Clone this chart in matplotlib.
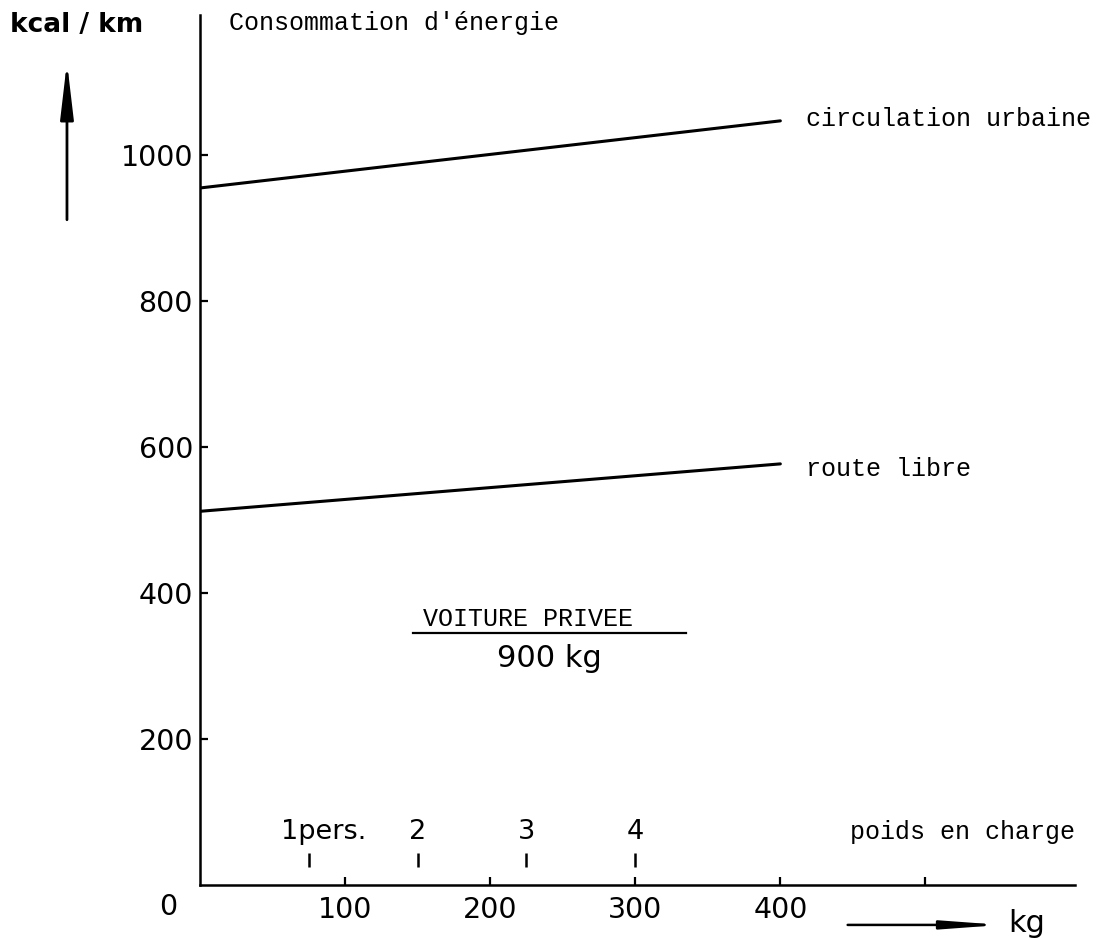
import matplotlib.pyplot as plt

# Donnees
poids = [0, 400]
urbaine = [955, 1047]
route_libre = [512, 577]
pers_pos = [75, 150, 225, 300]
pers_labels = ["1pers.", "2", "3", "4"]
xticks = [100, 200, 300, 400, 500]
xtick_labels = ["100", "200", "300", "400", ""]
yticks = [200, 400, 600, 800, 1000]

mono = "Liberation Mono"
sans = "DejaVu Sans"
fs_mono = 18

fig = plt.figure(figsize=(10.98, 9.39), dpi=100)
ax = fig.add_axes([0.182, 0.0575, 0.797, 0.9265])
ax.set_xlim(0, 603)
ax.set_ylim(0, 1192)

for s in ["top", "right"]:
    ax.spines[s].set_visible(False)
for s in ["left", "bottom"]:
    ax.spines[s].set_linewidth(1.8)

ax.set_xticks(xticks)
ax.set_xticklabels(xtick_labels, fontsize=20.5, family=sans)
ax.set_yticks(yticks)
ax.set_yticklabels([str(v) for v in yticks], fontsize=20.5, family=sans)
ax.tick_params(axis="x", direction="in", length=6, width=1.6, pad=8)
ax.tick_params(axis="y", direction="in", length=6, width=1.6, pad=5)

# Courbes
ax.plot(poids, urbaine, color="black", lw=2.2, solid_capstyle="round")
ax.plot(poids, route_libre, color="black", lw=2.2, solid_capstyle="round")
ax.text(418, urbaine[1] + 3, "circulation urbaine", family=mono, fontsize=fs_mono,
        va="center", ha="left")
ax.text(418, route_libre[1] - 7, "route libre", family=mono, fontsize=fs_mono,
        va="center", ha="left")

# Nombre de personnes
ax.vlines(pers_pos, 25, 44, color="black", lw=1.8)
for p, lab in zip(pers_pos, pers_labels):
    dx = 10 if lab == "1pers." else 0
    ax.text(p + dx, 73, lab, family=sans, fontsize=19.5, ha="center", va="center")
ax.text(603, 72, "poids en charge", family=mono, fontsize=fs_mono,
        ha="right", va="center")

# Titre central
ax.text(226, 364, "VOITURE PRIVEE", family=mono, fontsize=fs_mono,
        ha="center", va="center")
ax.plot([147, 335], [345, 345], color="black", lw=1.6)
ax.text(241, 310, "900 kg", family=sans, fontsize=22, ha="center", va="center")

ax.text(-22, -30, "0", family=sans, fontsize=20.5, ha="center", va="center",
        clip_on=False)

# Textes et fleches hors axes
fig.text(0.009, 0.973, "kcal / km", family=sans, fontsize=19, fontweight="bold",
         ha="left", va="center")
fig.text(0.209, 0.976, "Consommation d'énergie", family=mono, fontsize=fs_mono,
         ha="left", va="center")
fig.text(0.918, 0.017, "kg", family=sans, fontsize=22, ha="left", va="center")

ax.annotate("", xy=(0.061, 0.934), xytext=(0.061, 0.766),
            xycoords="figure fraction", textcoords="figure fraction",
            arrowprops=dict(arrowstyle="-|>,head_length=3.4,head_width=0.4",
                            lw=2, color="black", shrinkA=0, shrinkB=0))
ax.annotate("", xy=(0.912, 0.015), xytext=(0.772, 0.015),
            xycoords="figure fraction", textcoords="figure fraction",
            arrowprops=dict(arrowstyle="-|>,head_length=3.4,head_width=0.25",
                            lw=1.8, color="black", shrinkA=0, shrinkB=0))

plt.savefig("out.png", dpi=100)
